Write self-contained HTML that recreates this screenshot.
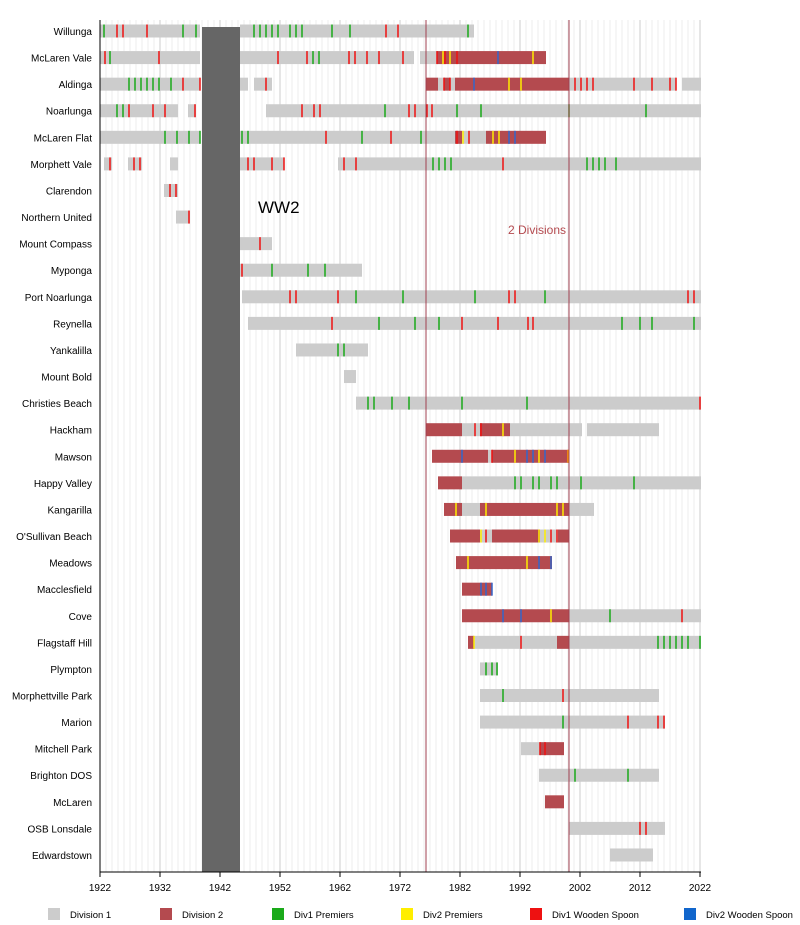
<!DOCTYPE html>
<html><head><meta charset="utf-8"><style>
html,body{margin:0;padding:0;background:#fff;width:800px;height:925px;overflow:hidden}
svg{display:block;font-family:"Liberation Sans",sans-serif}
</style></head><body>
<svg id="s" width="800" height="925" xmlns="http://www.w3.org/2000/svg">
<g id="grid"></g>
<g id="bars"></g>
<rect x="202" y="27" width="38" height="845" fill="#666"/>
<line x1="426" y1="20" x2="426" y2="872" stroke="#a04050" stroke-width="1"/>
<line x1="569" y1="20" x2="569" y2="872" stroke="#a04050" stroke-width="1"/>
<text x="258" y="213" font-size="17" fill="#000">WW2</text>
<text x="508" y="234" font-size="12" fill="#b44a4f">2 Divisions</text>
<line x1="100" y1="20" x2="100" y2="872" stroke="#000"/>
<line x1="100" y1="872" x2="701" y2="872" stroke="#000"/>
<g id="labels" font-size="10" text-anchor="end"></g>
<g id="ticks" font-size="10" text-anchor="middle"></g>
<g font-size="9.5">
<rect x="48" y="908" width="12" height="12" fill="#ccc"/><text x="70" y="918">Division 1</text>
<rect x="160" y="908" width="12" height="12" fill="#b44a4f"/><text x="182" y="918">Division 2</text>
<rect x="272" y="908" width="12" height="12" fill="#1aaa1a"/><text x="294" y="918">Div1 Premiers</text>
<rect x="401" y="908" width="12" height="12" fill="#ffee00"/><text x="423" y="918">Div2 Premiers</text>
<rect x="530" y="908" width="12" height="12" fill="#ee1111"/><text x="552" y="918">Div1 Wooden Spoon</text>
<rect x="684" y="908" width="12" height="12" fill="#1166cc"/><text x="706" y="918">Div2 Wooden Spoon</text>
</g>
</svg>
<script>
var NS="http://www.w3.org/2000/svg";
function el(p,t,a,txt){var e=document.createElementNS(NS,t);for(var k in a)e.setAttribute(k,a[k]);if(txt)e.textContent=txt;document.getElementById(p).appendChild(e);}
for(var y=1922;y<=2022;y++){var x=100+(y-1922)*6;el('grid','line',{x1:x,y1:20,x2:x,y2:872,stroke:(y-1922)%10==0?'#ccc':'#eee','stroke-width':1});}
for(var y=1922;y<=2022;y+=10){var x=100+(y-1922)*6;el('ticks','line',{x1:x,y1:872,x2:x,y2:877,stroke:'#000'});el('ticks','text',{x:x,y:891},String(y));}
var G='#cccccc',R='#b44a4f';
var rows=[
["Willunga",[[100,200,G],[240,474,G]],{g:[104,183,196,254,260,266,272,278,290,296,302,332,350,468],r:[117,123,147,386,398]}],
["McLaren Vale",[[100,200,G],[240,414,G],[420,437,G],[437,455,R],[455,546,R]],{r:[105,159,278,307,349,355,367,379,403,437,445,457],g:[110,313,319],y:[443,450,533],b:[498]}],
["Aldinga",[[100,200,G],[240,248,G],[254,272,G],[426,438,R],[438,444,G],[444,450,R],[450,455,G],[455,461,R],[461,569,R],[569,676,G],[682,701,G]],{g:[129,135,141,147,153,159,171],r:[183,200,266,444,450,575,581,587,593,634,652,670,676],y:[509,521],b:[474]}],
["Noarlunga",[[100,178,G],[188,196,G],[266,701,G]],{g:[117,123,385,457,481,569,646],r:[129,153,165,195,302,314,320,409,415,427,432]}],
["McLaren Flat",[[100,200,G],[240,455,G],[455,462,R],[462,486,G],[486,546,R]],{g:[165,177,189,200,242,248,362,421],r:[326,391,457,469],y:[463,493,499],b:[509,515]}],
["Morphett Vale",[[104,112,G],[128,142,G],[170,178,G],[240,284,G],[338,701,G]],{r:[110,134,140,248,254,272,284,344,356,503],g:[433,439,445,451,587,593,599,605,616]}],
["Clarendon",[[164,178,G]],{r:[170,176]}],
["Northern United",[[176,190,G]],{r:[189]}],
["Mount Compass",[[240,272,G]],{r:[260]}],
["Myponga",[[240,362,G]],{r:[242],g:[272,308,325]}],
["Port Noarlunga",[[242,701,G]],{r:[290,296,338,509,515,688,694],g:[356,403,475,545]}],
["Reynella",[[248,701,G]],{r:[332,462,498,528,533],g:[379,415,439,622,640,652,694]}],
["Yankalilla",[[296,368,G]],{g:[338,344]}],
["Mount Bold",[[344,356,G]],{}],
["Christies Beach",[[356,701,G]],{g:[368,374,392,409,462,527],r:[700]}],
["Hackham",[[426,462,R],[462,480,G],[480,510,R],[510,582,G],[587,659,G]],{r:[475,481],y:[503]}],
["Mawson",[[432,488,R],[488,492,G],[492,569,R]],{b:[462,527,533,545],r:[492],y:[515,539],o:[568]}],
["Happy Valley",[[438,462,R],[462,701,G]],{g:[515,521,533,539,551,557,581,634]}],
["Kangarilla",[[444,462,R],[462,480,G],[480,569,R],[569,594,G]],{y:[456,486,557,563]}],
["O'Sullivan Beach",[[450,480,R],[480,492,G],[492,540,R],[540,558,G],[558,569,R]],{y:[481,539,545],r:[486,551,557]}],
["Meadows",[[456,552,R]],{y:[468,527],b:[539,551]}],
["Macclesfield",[[462,492,R]],{b:[481,486,492]}],
["Cove",[[462,569,R],[569,701,G]],{b:[503,521],y:[551],g:[610],r:[682]}],
["Flagstaff Hill",[[468,474,R],[474,557,G],[557,569,R],[569,701,G]],{y:[474],r:[521],g:[658,664,670,676,682,688,700]}],
["Plympton",[[480,498,G]],{g:[486,492,497]}],
["Morphettville Park",[[480,659,G]],{g:[503],r:[563]}],
["Marion",[[480,665,G]],{g:[563],r:[628,658,664]}],
["Mitchell Park",[[521,540,G],[540,564,R]],{r:[540,545]}],
["Brighton DOS",[[539,659,G]],{g:[575,628]}],
["McLaren",[[545,564,R]],{}],
["OSB Lonsdale",[[569,665,G]],{r:[640,646]}],
["Edwardstown",[[610,653,G]],{}]
];
var C={g:'#1aaa1a',r:'#ee1111',y:'#ffee00',b:'#3366cc',o:'#ff9900'};
rows.forEach(function(r,i){
 var c=31+i*26.58;
 el('labels','text',{x:92,y:c+4},r[0]);
 r[1].forEach(function(b){el('bars','rect',{x:b[0],y:c-6.5,width:b[1]-b[0],height:13,fill:b[2]});});
 for(var k in r[2])r[2][k].forEach(function(x){el('bars','rect',{x:x-0.75,y:c-6.5,width:1.5,height:13,fill:C[k]});});
});
</script>
</body></html>
